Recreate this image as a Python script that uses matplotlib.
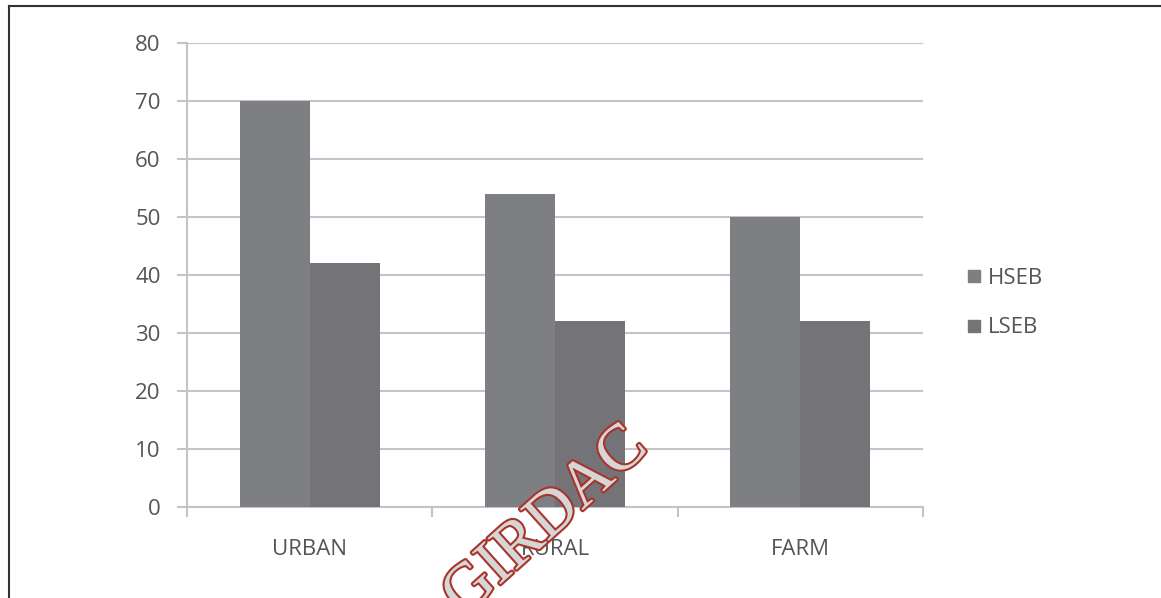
import numpy as np
import matplotlib.pyplot as plt
import matplotlib.patheffects as pe
from matplotlib.lines import Line2D

categories = ["URBAN", "RURAL", "FARM"]
hseb = [70, 54, 50]
lseb = [42, 32, 32]
y_ticks = [0, 10, 20, 30, 40, 50, 60, 70, 80]

plt.rcParams['font.family'] = ['Open Sans', 'DejaVu Sans']

fig = plt.figure(figsize=(11.61, 5.98), dpi=100)
ax = fig.add_axes([187 / 1161, 1 - 507 / 598, (923 - 187) / 1161, (507 - 43) / 598])

x = np.arange(len(categories))
w = 0.285
ax.bar(x - w / 2, hseb, w, color="#7e7f83", label="HSEB", zorder=3)
ax.bar(x + w / 2, lseb, w, color="#737378", label="LSEB", zorder=3)

ax.set_xlim(-0.5, len(categories) - 0.5)
ax.set_ylim(0, 80)
ax.set_yticks(y_ticks)
ax.set_xticks(x)
ax.set_xticklabels(categories)
ax.set_xticks(np.arange(len(categories) + 1) - 0.5, minor=True)

grid_col = "#c4c4c8"
txt_col = "#555558"
ax.yaxis.grid(True, color=grid_col, linewidth=1.5, zorder=0)
for s in ["top", "right"]:
    ax.spines[s].set_visible(False)
for s in ["left", "bottom"]:
    ax.spines[s].set_color(grid_col)
    ax.spines[s].set_linewidth(1.5)

ax.tick_params(axis="y", length=7, width=1.5, color=grid_col, pad=12,
               labelsize=16, labelcolor=txt_col)
ax.tick_params(axis="x", which="major", length=0, pad=23,
               labelsize=16, labelcolor=txt_col)
ax.tick_params(axis="x", which="minor", length=7, width=1.5, color=grid_col)

handles = [Line2D([], [], marker="s", linestyle="none", markersize=9,
                  color=c) for c in ["#7e7f83", "#737378"]]
fig.legend(handles, ["HSEB", "LSEB"], loc="center left",
           bbox_to_anchor=(941 / 1161, 1 - 303 / 598), frameon=False,
           fontsize=16, labelcolor=txt_col, labelspacing=1.3,
           handletextpad=0.0, handlelength=1.2)

# page frame
fig.add_artist(Line2D([8.5 / 1161, 8.5 / 1161], [0, 1 - 6 / 598],
                      color="#333333", linewidth=1.5))
fig.add_artist(Line2D([8.5 / 1161, 1], [1 - 6 / 598, 1 - 6 / 598],
                      color="#333333", linewidth=1.5))

# watermark
wm = fig.text(546 / 1161, 1 - 522 / 598, "GIRDAC", family="Liberation Serif",
              fontsize=47, rotation=42, ha="center", va="center",
              color="#d6d6d6", zorder=10)
wm.set_path_effects([pe.withStroke(linewidth=3, foreground="#a8342c")])

fig.savefig("out.png", dpi=100)
